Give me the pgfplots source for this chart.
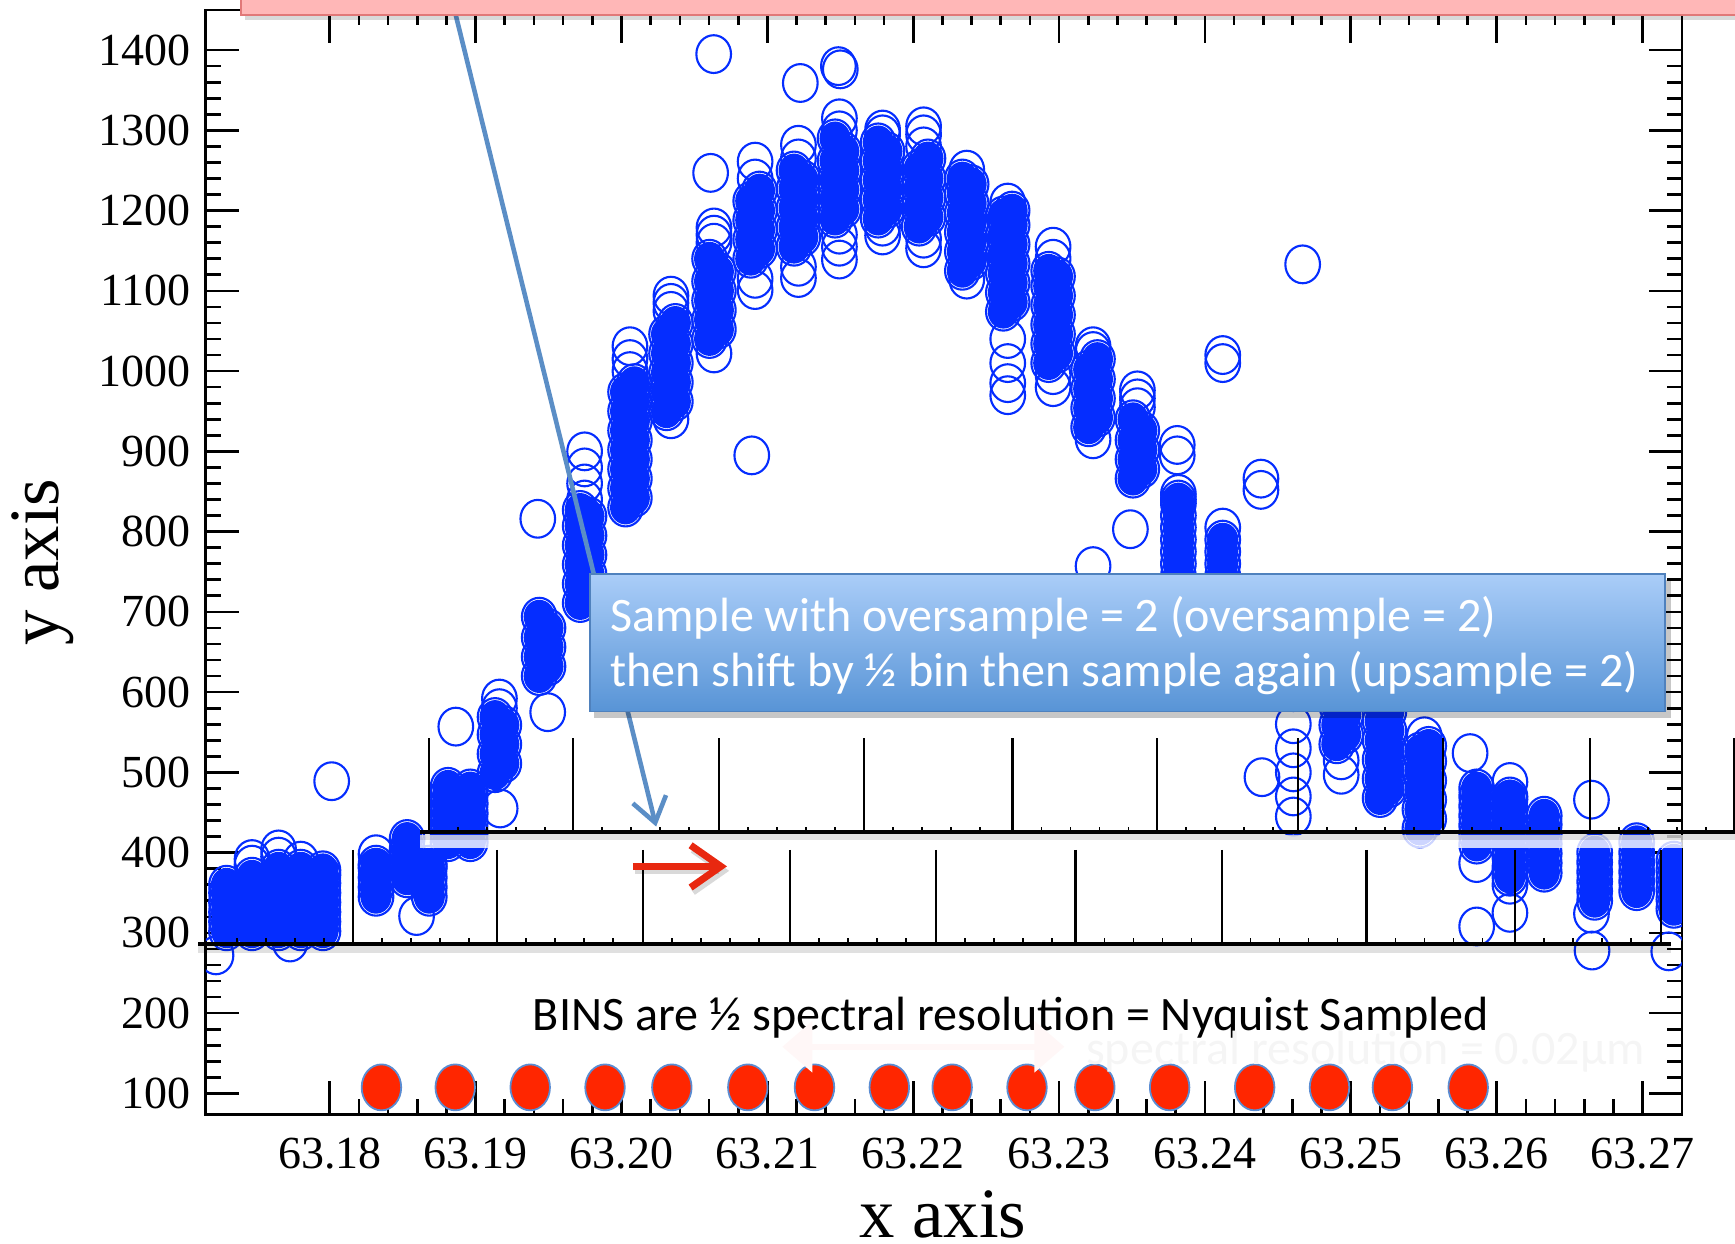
\documentclass[border=0pt]{standalone}
\usepackage{pgfplots}
\pgfplotsset{compat=1.18}
\usepackage{pgfplotstable}
\usepackage{fontspec}
\setmainfont{Liberation Serif}
\newfontfamily\calibri{Carlito}
\usetikzlibrary{arrows.meta}
\definecolor{dblue}{RGB}{5,45,255}
\definecolor{dotred}{RGB}{255,38,0}
\definecolor{dotedge}{RGB}{90,140,210}
\definecolor{arrowblue}{RGB}{91,142,198}
\definecolor{boxtop}{RGB}{170,205,248}
\definecolor{boxbot}{RGB}{88,148,214}
\definecolor{boxedge}{RGB}{79,129,189}
\definecolor{pinkfill}{RGB}{255,183,183}
\definecolor{pinkedge}{RGB}{225,120,120}
\definecolor{arrowred}{RGB}{232,40,16}

\pgfplotstableread[row sep=\\]{
x y\\
63.17292 302\\63.17292 314\\63.17292 326\\63.17292 338\\63.17292 350\\63.17292 360\\
63.17467 302\\63.17467 314\\63.17467 326\\63.17467 338\\63.17467 350\\63.17467 362\\63.17467 370\\
63.17649 302\\63.17649 314\\63.17649 326\\63.17649 338\\63.17649 350\\63.17649 362\\63.17649 374\\63.17649 380\\
63.17801 302\\63.17801 314\\63.17801 326\\63.17801 338\\63.17801 350\\63.17801 362\\63.17801 374\\63.17801 380\\
63.17953 302\\63.17953 314\\63.17953 326\\63.17953 338\\63.17953 350\\63.17953 362\\63.17953 372\\63.17953 378\\
63.18317 345\\63.18317 357\\63.18317 369\\63.18317 381\\63.18317 385\\
63.18530 368\\63.18530 380\\63.18530 392\\63.18530 404\\63.18530 417\\
63.18682 345\\63.18682 357\\63.18682 369\\63.18682 381\\63.18682 385\\
63.18811 413\\63.18811 425\\63.18811 437\\63.18811 449\\63.18811 461\\63.18811 473\\63.18811 482\\
63.18963 413\\63.18963 425\\63.18963 437\\63.18963 449\\63.18963 461\\63.18963 473\\63.18963 480\\
63.19133 499\\63.19193 511\\63.19133 523\\63.19193 535\\63.19133 547\\63.19193 559\\63.19133 569\\
63.19436 620\\63.19496 632\\63.19436 644\\63.19496 656\\63.19436 668\\63.19496 680\\63.19436 694\\
63.19717 711\\63.19777 723\\63.19717 735\\63.19777 747\\63.19717 759\\63.19777 771\\63.19717 783\\63.19777 795\\63.19717 807\\63.19777 819\\63.19717 827\\
63.20028 830\\63.20088 842\\63.20028 854\\63.20088 866\\63.20028 878\\63.20088 890\\63.20028 902\\63.20088 914\\63.20028 926\\63.20088 938\\63.20028 950\\63.20088 962\\63.20028 974\\63.20088 985\\
63.20309 950\\63.20369 962\\63.20309 974\\63.20369 986\\63.20309 998\\63.20369 1010\\63.20309 1022\\63.20369 1034\\63.20309 1046\\63.20369 1060\\
63.20604 1040\\63.20664 1052\\63.20604 1064\\63.20664 1076\\63.20604 1088\\63.20664 1100\\63.20604 1112\\63.20664 1124\\63.20604 1140\\
63.20886 1140\\63.20946 1152\\63.20886 1164\\63.20946 1176\\63.20886 1188\\63.20946 1200\\63.20886 1212\\63.20946 1225\\
63.21183 1155\\63.21243 1167\\63.21183 1179\\63.21243 1191\\63.21183 1203\\63.21243 1215\\63.21183 1227\\63.21243 1239\\63.21183 1250\\
63.21464 1190\\63.21524 1202\\63.21464 1214\\63.21524 1226\\63.21464 1238\\63.21524 1250\\63.21464 1262\\63.21524 1274\\63.21464 1290\\
63.21760 1190\\63.21820 1202\\63.21760 1214\\63.21820 1226\\63.21760 1238\\63.21820 1250\\63.21760 1262\\63.21820 1274\\63.21760 1285\\
63.22041 1180\\63.22101 1192\\63.22041 1204\\63.22101 1216\\63.22041 1228\\63.22101 1240\\63.22041 1252\\63.22101 1265\\
63.22337 1125\\63.22397 1137\\63.22337 1149\\63.22397 1161\\63.22337 1173\\63.22397 1185\\63.22337 1197\\63.22397 1209\\63.22337 1221\\63.22397 1233\\63.22337 1240\\
63.22618 1074\\63.22678 1086\\63.22618 1098\\63.22678 1110\\63.22618 1122\\63.22678 1134\\63.22618 1146\\63.22678 1158\\63.22618 1170\\63.22678 1182\\63.22618 1194\\63.22678 1200\\
63.22929 1010\\63.22989 1022\\63.22929 1034\\63.22989 1046\\63.22929 1058\\63.22989 1070\\63.22929 1082\\63.22989 1094\\63.22929 1106\\63.22989 1118\\63.22929 1125\\
63.23203 930\\63.23263 942\\63.23203 954\\63.23263 966\\63.23203 978\\63.23263 990\\63.23203 1002\\63.23263 1015\\
63.23507 866\\63.23567 878\\63.23507 890\\63.23567 902\\63.23507 914\\63.23567 926\\63.23507 940\\
63.23818 700\\63.23818 715\\63.23818 730\\63.23818 745\\63.23818 760\\63.23818 775\\63.23818 790\\63.23818 805\\63.23818 820\\63.23818 835\\63.23818 840\\
63.24122 640\\63.24122 655\\63.24122 670\\63.24122 685\\63.24122 700\\63.24122 715\\63.24122 730\\63.24122 745\\63.24122 760\\63.24122 775\\63.24122 790\\
63.24606 600\\63.24606 615\\63.24606 630\\63.24606 645\\63.24606 660\\
63.24904 535\\63.24964 547\\63.24904 559\\63.24964 571\\63.24904 583\\63.24964 595\\63.24904 607\\63.24964 619\\63.24904 631\\63.24964 640\\
63.25201 468\\63.25261 480\\63.25201 492\\63.25261 504\\63.25201 516\\63.25261 528\\63.25201 540\\63.25261 552\\63.25201 564\\63.25261 576\\63.25201 588\\63.25261 600\\63.25201 612\\63.25261 624\\63.25201 640\\
63.25474 430\\63.25534 442\\63.25474 454\\63.25534 466\\63.25474 478\\63.25534 490\\63.25474 502\\63.25534 514\\63.25474 526\\63.25534 533\\
63.25863 410\\63.25863 422\\63.25863 434\\63.25863 446\\63.25863 458\\63.25863 470\\63.25863 480\\
63.26091 370\\63.26091 382\\63.26091 394\\63.26091 406\\63.26091 418\\63.26091 430\\63.26091 442\\63.26091 454\\63.26091 466\\63.26091 470\\
63.26326 375\\63.26326 387\\63.26326 399\\63.26326 411\\63.26326 423\\63.26326 435\\63.26326 446\\
63.26672 340\\63.26672 352\\63.26672 364\\63.26672 376\\63.26672 388\\63.26672 400\\
63.26960 352\\63.26960 364\\63.26960 376\\63.26960 388\\63.26960 400\\63.26960 413\\
63.27215 330\\63.27215 342\\63.27215 354\\63.27215 366\\63.27215 378\\63.27215 390\\
}\dense

\pgfplotstableread[row sep=\\]{
x y\\
63.18013 489\\63.17728 288\\63.17220 272\\
63.17467 385\\63.17467 392\\63.17649 395\\63.17649 404\\63.17801 390\\
63.18317 398\\63.18595 321\\63.18864 557\\
63.19163 580\\63.19163 592\\63.19168 455\\63.19494 575\\63.19426 816\\
63.19747 840\\63.19747 860\\63.19747 880\\63.19747 900\\
63.20058 1000\\63.20058 1015\\63.20058 1031\\
63.20339 940\\63.20339 1075\\63.20339 1085\\63.20339 1094\\
63.20634 1022\\63.20634 1160\\63.20634 1170\\63.20634 1179\\
63.20611 1247\\63.20893 895\\
63.20916 1101\\63.20916 1115\\63.20916 1240\\63.20916 1261\\
63.21213 1116\\63.21213 1130\\63.21213 1265\\63.21213 1282\\
63.21494 1139\\63.21494 1155\\63.21494 1170\\63.21494 1300\\63.21494 1315\\
63.21790 1169\\63.21790 1180\\63.21790 1295\\63.21790 1301\\
63.22071 1153\\63.22071 1165\\63.22071 1280\\63.22071 1295\\63.22071 1305\\
63.22367 1114\\63.22367 1251\\
63.22648 970\\63.22648 985\\63.22648 1010\\63.22648 1040\\63.22648 1210\\
63.22959 980\\63.22959 995\\63.22959 1140\\63.22959 1155\\
63.23233 915\\63.23233 1025\\63.23233 1031\\
63.23537 955\\63.23537 966\\63.23537 976\\
63.23818 847\\63.24122 805\\
63.20632 1395\\63.21226 1359\\63.21487 1380\\63.21500 1376\\
63.23810 895\\63.23810 908\\63.23489 803\\63.23233 757\\
63.24122 1010\\63.24122 1020\\63.24384 852\\63.24384 866\\
63.24670 1133\\63.24391 494\\
63.24606 445\\63.24606 470\\63.24606 500\\63.24606 530\\63.24606 560\\
63.24934 497\\63.24934 515\\63.25504 545\\63.25818 524\\
63.25863 387\\63.25863 308\\
63.26091 488\\63.26091 360\\63.26091 325\\
63.26650 324\\63.26650 466\\63.26654 278\\63.27180 277\\
}\sparse

\pgfplotstableread[row sep=\\]{
x y\\
63.18354 107.5\\63.18860 107.5\\63.19374 107.5\\63.19887 107.5\\
63.20345 107.5\\63.20866 107.5\\63.21323 107.5\\63.21836 107.5\\
63.22267 107.5\\63.22780 107.5\\63.23245 107.5\\63.23758 107.5\\
63.24341 107.5\\63.24854 107.5\\63.25285 107.5\\63.25805 107.5\\
}\bins

\begin{document}
\begin{tikzpicture}
\begin{axis}[
  at={(20.46mm,12.87mm)}, anchor=south west,
  scale only axis, width=146.74mm, height=109.78mm,
  xmin=63.1715, xmax=63.2727, ymin=74, ymax=1450,
  xtick={63.18,63.19,63.20,63.21,63.22,63.23,63.24,63.25,63.26,63.27},
  minor x tick num=4,
  ytick={100,200,300,400,500,600,700,800,900,1000,1100,1200,1300,1400},
  minor y tick num=4,
  scaled x ticks=false, scaled y ticks=false,
  x tick label style={/pgf/number format/fixed, /pgf/number format/fixed zerofill, /pgf/number format/precision=2, /pgf/number format/assume math mode=true},
  y tick label style={/pgf/number format/1000 sep={}, /pgf/number format/assume math mode=true},
  tick align=inside,
  major tick length=3.3mm, minor tick length=1.5mm,
  tick style={black, line width=0.75pt},
  axis line style={line width=0.75pt},
  ticklabel style={font=\fontsize{13}{15}\selectfont},
  xticklabel style={anchor=base, yshift=-5.35mm},
  yticklabel style={anchor=east, xshift=-0.25mm},
  xlabel={x axis}, ylabel={y axis},
  label style={font=\fontsize{20}{24}\selectfont},
  xlabel style={at={(axis description cs:0.4993,0)}, anchor=base, yshift=-12.3mm},
  ylabel style={at={(axis description cs:-0.1102,0.5)}, anchor=center},
  clip marker paths=true,
]
\addplot[only marks, mark=*, mark size=4.2pt, color=dblue,
  mark options={yscale=1.09, draw=none, fill=dblue}] table {\dense};
\addplot[only marks, mark=o, mark size=4.9pt, color=dblue,
  mark options={yscale=1.09, line width=0.6pt}] table {\dense};
\addplot[only marks, mark=o, mark size=4.9pt, color=dblue,
  mark options={yscale=1.09, line width=0.6pt}] table {\sparse};
\addplot[only marks, mark=*, mark size=6.5pt,
  mark options={xscale=0.86, fill=dotred, draw=dotedge, line width=0.5pt}] table {\bins};
\end{axis}

\begin{scope}[x=0.11mm, y=-0.11mm, shift={(0,123.64mm)}]
  % lower bin bar
  \fill[black, opacity=0.12] (179,855) rectangle (1510,861);
  \draw[line width=1.3pt] (179,853) -- (1510,853);
  \foreach \xx in {319,449,581,714,846,972,1104,1235,1369,1501}
    \draw[line width=0.6pt] (\xx,768) -- (\xx,853);
  \foreach \s in {188,319,449,581,714,846,972,1104,1235,1369}
    \foreach \k in {1,2,3,4}
      \draw[line width=0.5pt] (\s+26.2*\k,853) -- ++(0,-5);
  % upper bin bar
  \fill[white, opacity=0.8] (380,755) rectangle (1580,766);
  \fill[black, opacity=0.12] (380,754) rectangle (1580,759);
  \draw[line width=1.3pt] (380,752) -- (1580,752);
  \foreach \xx in {388,518,650,781,915,1046,1173,1304,1437,1567}
    \draw[line width=0.6pt] (\xx,667) -- (\xx,752);
  \foreach \s in {388,518,650,781,915,1046,1173,1304,1437}
    \foreach \k in {1,2,3,4}
      \draw[line width=0.5pt] (\s+26.2*\k,752) -- ++(0,-5);
  % blue pointer
  \draw[line width=1.3pt, arrowblue, -{Straight Barb[length=2.4mm,width=3.4mm]}] (412,14) -- (593,747);
  % callout box
  \fill[black, opacity=0.22] (537,524) rectangle (1510,649);
  \shade[top color=boxtop, bottom color=boxbot] (533,519) rectangle (1505,643);
  \draw[boxedge, line width=0.5pt] (533,519) rectangle (1505,643);
  \node[anchor=base west, inner sep=0, text=white] at (551,571)
    {\calibri\fontsize{13.6}{15}\selectfont Sample with oversample = 2 (oversample = 2)};
  \node[anchor=base west, inner sep=0, text=white] at (551,620.6)
    {\calibri\fontsize{13.6}{15}\selectfont then shift by ½ bin then sample again (upsample = 2)};
  % red arrow
  \draw[line width=2pt, black, opacity=0.15, -{Straight Barb[length=3mm,width=4.2mm]}] (574,787) -- (659,787);
  \draw[line width=2pt, arrowred, -{Straight Barb[length=3mm,width=4.2mm]}] (572,783) -- (657,783);
  % texts
  \node[anchor=base west, inner sep=0] at (481,931)
    {\calibri\fontsize{13.6}{15}\selectfont BINS are ½ spectral resolution = Nyquist Sampled};
  \draw[line width=1.8pt, red!3, {Triangle[length=3mm,width=5mm]}-{Triangle[length=3mm,width=5mm]}] (707,946) -- (962,946);
  \node[anchor=base west, inner sep=0, text=black!4] at (981,962.5)
    {\calibri\fontsize{13.6}{15}\selectfont spectral resolution = 0.02μm};
  % pink box at top
  \fill[black, opacity=0.15] (221,0) rectangle (1600,18);
  \fill[pinkfill] (218,-30) rectangle (1600,13.6);
  \draw[pinkedge, line width=0.5pt] (218,-30) -- (218,13.6) -- (1600,13.6);
\end{scope}
\pgfresetboundingbox
\path[use as bounding box] (0,0) rectangle (172.48mm,123.64mm);
\end{tikzpicture}
\end{document}
